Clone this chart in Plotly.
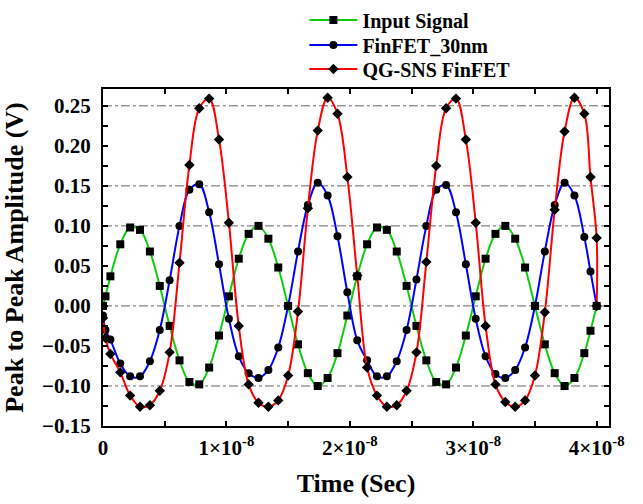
import plotly.graph_objects as go

# ---- data (time in ns, values in V) ----
T_NS = [0.0, 0.2, 0.6, 1.4, 2.2, 3.0, 3.8, 4.6, 5.4, 6.2, 7.0, 7.8, 8.6, 9.4,
        10.2, 11.0, 11.8, 12.6, 13.4, 14.2, 15.0, 15.8, 16.6, 17.4, 18.2, 19.0, 19.8,
        20.6, 21.4, 22.2, 23.0, 23.8, 24.6, 25.4, 26.2, 27.0, 27.8, 28.6, 29.4,
        30.2, 31.0, 31.8, 32.6, 33.4, 34.2, 35.0, 35.8, 36.6, 37.4, 38.2, 39.0, 39.5, 40.0]

INPUT_SIGNAL = [0.000, 0.012, 0.037, 0.077, 0.098, 0.095, 0.068, 0.025, -0.025, -0.068,
                -0.095, -0.098, -0.077, -0.037, 0.012, 0.059, 0.090, 0.100, 0.084, 0.048,
                0.000, -0.048, -0.084, -0.100, -0.090, -0.059, -0.012, 0.037, 0.077, 0.098,
                0.095, 0.068, 0.025, -0.025, -0.068, -0.095, -0.098, -0.077, -0.037, 0.012,
                0.059, 0.090, 0.100, 0.084, 0.048, 0.000, -0.048, -0.084, -0.100, -0.090,
                -0.059, -0.031, 0.000]

FINFET_30NM = [-0.012, -0.030, -0.042, -0.072, -0.088, -0.088, -0.069, -0.030, 0.032, 0.100,
               0.145, 0.152, 0.117, 0.052, -0.016, -0.063, -0.084, -0.090, -0.080, -0.052,
               0.000, 0.068, 0.126, 0.154, 0.138, 0.087, 0.017, -0.043, -0.068, -0.088,
               -0.088, -0.069, -0.030, 0.033, 0.100, 0.145, 0.151, 0.117, 0.052, -0.016,
               -0.063, -0.085, -0.090, -0.080, -0.052, 0.000, 0.068, 0.126, 0.154, 0.138,
               0.086, 0.043, 0.000]

QG_T_NS = [0.0, 0.2, 0.6, 1.4, 2.2, 3.0, 3.8, 4.6, 5.4, 6.2, 7.0, 7.8, 8.6, 9.4,
           10.2, 11.0, 11.8, 12.6, 13.4, 14.2, 15.0, 15.8, 16.6, 17.4, 18.2, 19.0, 19.8,
           20.6, 21.4, 22.2, 23.0, 23.8, 24.6, 25.4, 26.2, 27.0, 27.8, 28.6, 29.4,
           30.2, 31.0, 31.8, 32.6, 33.4, 34.2, 35.0, 35.8, 36.6, 37.4, 38.2, 39.0, 39.5, 40.0, 40.0]

QG_SNS = [-0.015, -0.040, -0.060, -0.083, -0.112, -0.126, -0.124, -0.106, -0.058, 0.054,
          0.176, 0.247, 0.259, 0.208, 0.104, -0.025, -0.098, -0.121, -0.126, -0.118,
          -0.087, -0.007, 0.122, 0.219, 0.260, 0.240, 0.161, 0.038, -0.077, -0.112,
          -0.126, -0.124, -0.106, -0.058, 0.055, 0.175, 0.247, 0.259, 0.208, 0.104,
          -0.025, -0.098, -0.120, -0.126, -0.118, -0.087, -0.008, 0.120, 0.218, 0.260,
          0.240, 0.161, 0.085, 0.000]

X_TICKS = [0, 1e-8, 2e-8, 3e-8, 4e-8]
X_TICK_TEXT = ["0", "1×10<sup>-8</sup>", "2×10<sup>-8</sup>", "3×10<sup>-8</sup>", "4×10<sup>-8</sup>"]
GRID_Y = [0.25, 0.15, 0.10, 0.0, -0.10]

FONT = "Liberation Serif"

def secs(ns):
    return [v * 1e-9 for v in ns]

fig = go.Figure()
series = [
    ("Input Signal", T_NS, INPUT_SIGNAL, "#10cc10", "square", 8, "legend"),
    ("FinFET_30nm", T_NS, FINFET_30NM, "#0000ff", "circle", 8, "legend2"),
    ("QG-SNS FinFET", QG_T_NS, QG_SNS, "#ff0000", "diamond", 8, "legend3"),
]
for name, t, y, col, sym, ms, lg in series:
    fig.add_trace(go.Scatter(
        x=secs(t), y=y, name=name, mode="lines+markers", legend=lg,
        line=dict(color=col, width=2, shape="spline", smoothing=1),
        marker=dict(symbol=sym, size=ms, color="black", line=dict(width=0)),
    ))

for gy in GRID_Y:
    fig.add_shape(type="line", xref="paper", x0=0, x1=1, yref="y", y0=gy, y1=gy,
                  line=dict(color="#666666", width=1, dash="dashdot"), layer="below")

axis_common = dict(
    showline=True, linecolor="black", linewidth=2, mirror="allticks",
    ticks="inside", ticklen=5, tickwidth=1.5, tickcolor="black",
    showgrid=False, zeroline=False,
    tickfont=dict(family=FONT, size=21, color="black", weight="bold"),
)

fig.update_xaxes(
    range=[0, 4.1e-8], tickmode="array", tickvals=X_TICKS, ticktext=X_TICK_TEXT,
    minor=dict(tick0=0, dtick=0.5e-8, ticks="inside", ticklen=5, tickcolor="black", tickwidth=1.5),
    title=dict(text="Time (Sec)", font=dict(family=FONT, size=26, color="black", weight="bold")),
    ticklabelstandoff=2,
    **axis_common,
)
fig.update_yaxes(
    range=[-0.15, 0.271], tick0=-0.15, dtick=0.05, tickformat=".2f",
    minor=dict(dtick=0.025, ticks="inside", ticklen=5, tickcolor="black", tickwidth=1.5),
    title=dict(text="Peak to Peak Amplitude (V)", font=dict(family=FONT, size=26, color="black", weight="bold")),
    ticklabelstandoff=6,
    **axis_common,
)

PLOT_TOP, PLOT_H = 89, 336.7
legend_common = dict(x=(304.4 - 103) / 506, xanchor="left", yanchor="middle",
                     font=dict(family=FONT, size=20, color="black", weight="bold"),
                     bgcolor="rgba(0,0,0,0)", itemwidth=48)

fig.update_layout(
    width=643, height=504,
    margin=dict(l=103, r=34, t=89, b=78, autoexpand=False),
    paper_bgcolor="white", plot_bgcolor="white",
    showlegend=True,
    legend=dict(y=1 + (PLOT_TOP - 20) / PLOT_H, **legend_common),
    legend2=dict(y=1 + (PLOT_TOP - 45) / PLOT_H, **legend_common),
    legend3=dict(y=1 + (PLOT_TOP - 69) / PLOT_H, **legend_common),
)

fig.write_html("out.html")
